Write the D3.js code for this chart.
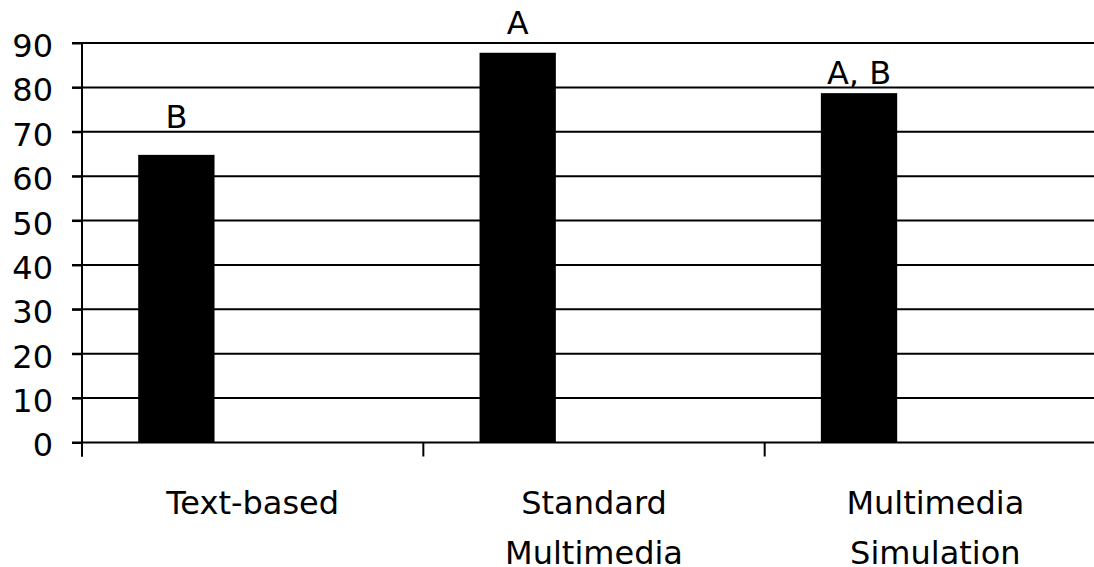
<!DOCTYPE html>
<html>
<head>
<meta charset="utf-8">
<script src="https://cdn.jsdelivr.net/npm/d3@7"></script>
<style>
html,body{margin:0;padding:0;background:#fff;overflow:hidden;}
text{font-family:"DejaVu Sans",sans-serif;fill:#000;}
</style>
</head>
<body>
<svg id="chart" width="1094" height="567"></svg>
<script>
// Data
const categories = [["Text-based"], ["Standard", "Multimedia"], ["Multimedia", "Simulation"]];
const categoryKeys = ["Text-based", "Standard Multimedia", "Multimedia Simulation"];
const values = [64.8, 87.8, 78.7];
const significance = ["B", "A", "A, B"];
const yTicks = [0, 10, 20, 30, 40, 50, 60, 70, 80, 90];

(function() {
const svg = d3.select("#chart");
const mLeft = 82, mRight = 1106, mTop = 43, mBottom = 442.5;

const x = d3.scaleBand().domain(categoryKeys).range([mLeft, mRight]).padding(0);
// Excel-like slot layout: bar occupies first of three series slots
const slot = d3.scaleBand().domain([0, 1, 2]).range([0, x.bandwidth()]).paddingInner(0).paddingOuter(0.7365);
const y = d3.scaleLinear().domain([0, 90]).range([mBottom, mTop]);

// grid lines
svg.append("g").selectAll("line").data(yTicks).join("line")
  .attr("x1", mLeft - 10).attr("x2", 1094)
  .attr("y1", d => y(d)).attr("y2", d => y(d))
  .attr("stroke", "#000").attr("stroke-width", 2);

// y axis
const yAxis = svg.append("g").attr("transform", `translate(${mLeft},0)`)
  .call(d3.axisLeft(y).tickValues(yTicks).tickSize(10).tickPadding(19));
yAxis.select(".domain").remove();
yAxis.selectAll(".tick line").attr("stroke", "#000").attr("stroke-width", 2);
yAxis.selectAll(".tick text").attr("font-size", 32).attr("font-family", "DejaVu Sans").attr("dy", "0.42em").attr("fill", "#000");
svg.append("line").attr("x1", mLeft).attr("x2", mLeft).attr("y1", mTop).attr("y2", mBottom + 14)
  .attr("stroke", "#000").attr("stroke-width", 2);

// x category ticks at band boundaries
const boundaries = categoryKeys.map(k => x(k)).concat([mRight]);
svg.append("g").selectAll("line").data(boundaries).join("line")
  .attr("x1", d => d).attr("x2", d => d).attr("y1", mBottom).attr("y2", mBottom + 14)
  .attr("stroke", "#000").attr("stroke-width", 2);

// bars
svg.append("g").selectAll("rect").data(values).join("rect")
  .attr("x", (d, i) => x(categoryKeys[i]) + slot(0))
  .attr("width", slot.bandwidth())
  .attr("y", d => y(d))
  .attr("height", d => y(0) - y(d))
  .attr("fill", "#000");

// significance labels
const labelGap = [27, 19, 9];
svg.append("g").selectAll("text").data(significance).join("text")
  .attr("x", (d, i) => x(categoryKeys[i]) + slot(0) + slot.bandwidth() / 2)
  .attr("y", (d, i) => y(values[i]) - labelGap[i])
  .attr("text-anchor", "middle").attr("font-size", 32)
  .text(d => d);

// category labels
const catG = svg.append("g").selectAll("text").data(categories).join("text")
  .attr("x", (d, i) => x(categoryKeys[i]) + x.bandwidth() / 2)
  .attr("y", 514)
  .attr("text-anchor", "middle").attr("font-size", 32);
catG.selectAll("tspan").data(d => d).join("tspan")
  .attr("x", function() { return this.parentNode.getAttribute("x"); })
  .attr("dy", (d, j) => j === 0 ? 0 : 50)
  .text(d => d);
})();
</script>
</body>
</html>
